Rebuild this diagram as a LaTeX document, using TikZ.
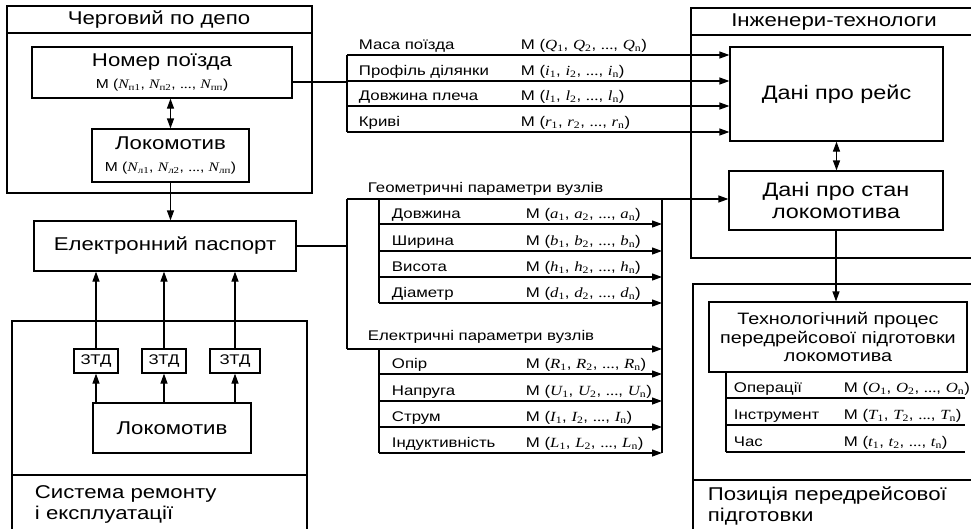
\documentclass[tikz,border=0pt]{standalone}
\usepackage{fontspec}
\setmainfont{Liberation Sans}[FakeStretch=1.2]
\newfontfamily\serf{Liberation Serif}[FakeStretch=1.2]
\usetikzlibrary{arrows.meta,positioning}

\newcommand{\vr}[2]{{\serf\itshape #1}\textsubscript{\serf #2}}
\newcommand{\mset}[1]{M ({\vr{#1}{1}}, {\vr{#1}{2}}, {\serf ...}, {\vr{#1}{n}})}

\begin{document}
\begin{tikzpicture}
[x=1pt,y=-1pt,line width=1.2pt,>={Triangle[length=10pt,width=7pt]},
  box/.style={draw,align=center,inner sep=0pt},
  big/.style={font=\fontsize{18.5}{21}\selectfont},
  dani/.style={font=\fontsize{19.5}{22}\selectfont},
  head/.style={font=\fontsize{18.5}{21}\selectfont},
  lbl/.style={anchor=base west,font=\fontsize{14}{16}\selectfont}]

  \useasboundingbox (0,0) rectangle (971,528);

  % frames
  \draw (7,6) rectangle (312,193) (7,33) -- (312,33);
  \draw (12,530) -- (12,321) -- (307,321) -- (307,530) (12,475) -- (307,475);
  \draw (975,8) -- (691,8) -- (691,258) -- (975,258) (691,35) -- (975,35);
  \draw (975,284) -- (693,284) -- (693,530) (693,480) -- (975,480);

  \node [head] (cherg) at (159,20) {Черговий по депо};
  \node [head] (inzh) at (834,22) {Інженери-технологи};
  \node [big,anchor=west,align=left] (remont) at (31,504) {Система ремонту\\і експлуатації};
  \node [big,anchor=west,align=left] (pozyc) at (704,506) {Позиція передрейсової\\підготовки};

  % left blocks
  \node [box,big,minimum width=260pt,minimum height=51pt] (nomer) at (162,72.5)
    {Номер поїзда\\[1pt]{\fontsize{13}{15}\selectfont M (\vr{N}{п1}, \vr{N}{п2}, {\serf ...}, \vr{N}{пп})}};
  \node [box,big,minimum width=157pt,minimum height=53pt] (lok1) at (170.5,155.5)
    {Локомотив\\[1pt]{\fontsize{13}{15}\selectfont M (\vr{N}{л1}, \vr{N}{л2}, {\serf ...}, \vr{N}{лп})}};
  \node [box,big,minimum width=262pt,minimum height=50pt] (pasport) at (165,246) {Електронний паспорт};
  \node [box,font=\fontsize{14}{16}\selectfont,minimum width=44pt,minimum height=24pt] (z1) at (96,361) {ЗТД};
  \node [box,font=\fontsize{14}{16}\selectfont,minimum width=44pt,minimum height=24pt] (z2) at (164,361) {ЗТД};
  \node [box,font=\fontsize{14}{16}\selectfont,minimum width=50pt,minimum height=24pt] (z3) at (235,361) {ЗТД};
  \node [box,big,minimum width=158pt,minimum height=50pt] (lok2) at (172,428) {Локомотив};

  % right blocks
  \node [box,dani,minimum width=213pt,minimum height=94pt] (reys) at (836.5,94) {Дані про рейс};
  \node [box,dani,minimum width=214pt,minimum height=59pt] (stan) at (836,200.5) {Дані про стан\\локомотива};
  \node [box,font=\fontsize{16.5}{18.5}\selectfont,minimum width=258pt,minimum height=70pt] (tech) at (838,337)
    {Технологічний процес\\передрейсової підготовки\\локомотива};

  \draw [<->] (lok1 |- nomer.south) -- (lok1);
  \draw [->] (lok1.south) -- (lok1.south |- pasport.north);
  \foreach \z in {z1,z2,z3} {
    \draw [->] (\z) -- (\z |- pasport.south);
    \draw [->] (\z |- lok2.north) -- (\z);
  }
  \draw [<->] (reys) -- (reys |- stan.north);
  \draw [->] (stan.south) -- (stan.south |- tech.north);

  % trip data
  \coordinate (bt) at (347,55);
  \coordinate (bm) at (347,82);
  \coordinate (bb) at (347,132);
  \draw (nomer.east |- bm) -- (bm);
  \draw (bt) -- (bb);
  \foreach \yy/\name/\dat [count=\i] in {55/Маса поїзда/Q,81/Профіль ділянки/i,106/Довжина плеча/l,132/Криві/r} {
    \coordinate (t\i) at (347,\yy);
    \draw [->] (t\i) -- (t\i -| reys.west);
    \node [lbl] (tn\i) at (355,\yy-6) {\name};
    \node [lbl] (tm\i) at (517,\yy-6) {\mset{\dat}};
  }

  % node parameters
  \coordinate (gtl) at (347,199);
  \coordinate (gtr) at (662,199);
  \coordinate (gbr) at (662,453);
  \coordinate (ebl) at (347,349);
  \draw (pasport) -- (pasport -| gtl);
  \draw (gtl) -- (ebl);
  \draw [->] (gtl) -- (gtl -| stan.west);
  \draw (gtr) -- (gbr);
  \draw [->] (ebl) -- (ebl -| gtr);
  \node [lbl] (geom) at (364,192) {Геометричні параметри вузлів};
  \node [lbl] (elek) at (364,340) {Електричні параметри вузлів};
  \draw (379,199) -- (379,303) (379,349) -- (379,453);
  \foreach \yy/\name/\dat [count=\i] in {224/Довжина/a,251/Ширина/b,277/Висота/h,303/Діаметр/d,
      374/Опір/R,401/Напруга/U,427/Струм/I,453/Індуктивність/L} {
    \coordinate (g\i) at (379,\yy);
    \draw [->] (g\i) -- (g\i -| gtr);
    \node [lbl] (gn\i) at (388,\yy-6) {\name};
    \node [lbl] (gm\i) at (522,\yy-6) {\mset{\dat}};
  }

  % process
  \draw (tech.south -| 726,0) -- (726,452);
  \foreach \yy/\name/\dat [count=\i] in {398/Операції/O,425/Інструмент/T,452/Час/t} {
    \coordinate (p\i) at (726,\yy);
    \draw (p\i) -- (965,\yy);
    \node [lbl] (pn\i) at (730,\yy-6) {\name};
    \node [lbl] (pm\i) at (840,\yy-6) {\mset{\dat}};
  }

\end{tikzpicture}
\end{document}
